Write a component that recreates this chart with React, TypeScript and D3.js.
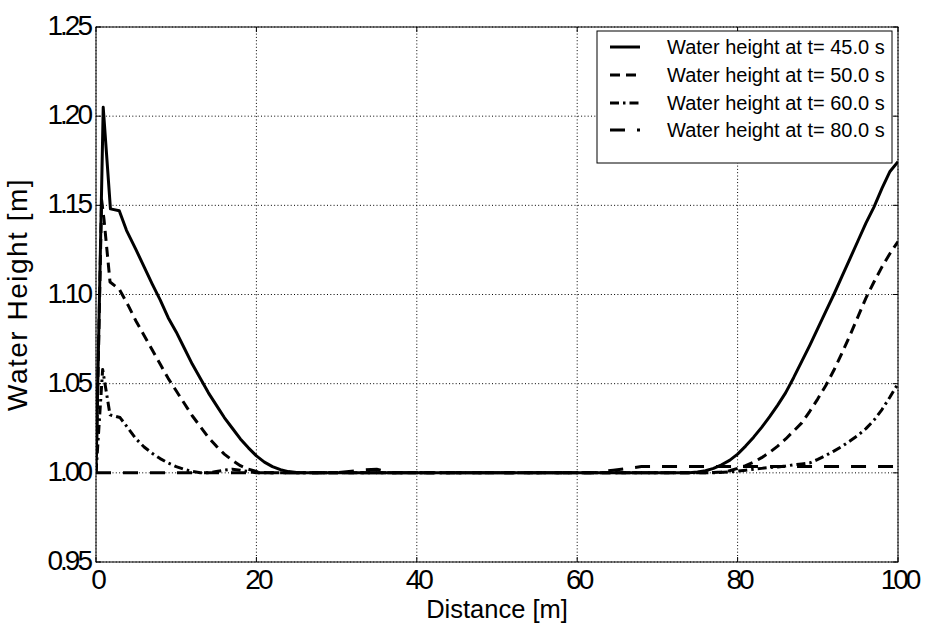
import React from "react";
import * as d3 from "d3";

// ---- data ----
const xTicks = [0, 20, 40, 60, 80, 100];
const yTicks = [0.95, 1.0, 1.05, 1.1, 1.15, 1.2, 1.25];
const yTickLabels = ["0.95", "1.00", "1.05", "1.10", "1.15", "1.20", "1.25"];

const legendLabels = [
  "Water height at t= 45.0 s",
  "Water height at t= 50.0 s",
  "Water height at t= 60.0 s",
  "Water height at t= 80.0 s",
];

// t = 45 s
const x45 = [0, 0.9, 1.8, 2.9, 3.8, 5, 6, 7, 8, 9, 10, 11, 12, 13, 14, 15, 16, 17, 18, 19, 20, 21, 22, 23, 24, 25, 26, 40, 60, 74, 75, 76, 77, 78, 79, 80, 81, 82, 83, 84, 85, 86, 87, 88, 89, 90, 91, 92, 93, 94, 95, 96, 97, 98, 99, 100];
const h45 = [1.0, 1.205, 1.148, 1.147, 1.136, 1.125, 1.1155, 1.106, 1.097, 1.087, 1.079, 1.07, 1.061, 1.053, 1.045, 1.038, 1.031, 1.025, 1.019, 1.014, 1.0095, 1.006, 1.0035, 1.0018, 1.0007, 1.0002, 1.0, 1.0, 1.0, 1.0, 1.0005, 1.0012, 1.0025, 1.0045, 1.007, 1.0105, 1.015, 1.02, 1.0255, 1.0315, 1.038, 1.045, 1.0535, 1.0625, 1.0715, 1.081, 1.0905, 1.1, 1.11, 1.12, 1.13, 1.14, 1.149, 1.1595, 1.169, 1.1745];

// t = 50 s
const x50 = [0, 0.7, 1.0, 1.75, 2.9, 4, 5, 6, 7, 8, 9, 10, 11, 12, 13, 14, 15, 16, 17, 18, 19, 20, 21, 22, 40, 60, 76, 77, 78, 79, 80, 81, 82, 83, 84, 85, 86, 87, 88, 89, 90, 91, 92, 93, 94, 95, 96, 97, 98, 99, 100];
const h50 = [1.0, 1.153, 1.142, 1.107, 1.103, 1.094, 1.085, 1.077, 1.069, 1.061, 1.053, 1.046, 1.039, 1.032, 1.026, 1.02, 1.015, 1.0105, 1.007, 1.004, 1.002, 1.0008, 1.0002, 1.0, 1.0, 1.0, 1.0, 1.0002, 1.0005, 1.0012, 1.0025, 1.004, 1.006, 1.0085, 1.0115, 1.015, 1.019, 1.0235, 1.028, 1.0345, 1.0415, 1.049, 1.0575, 1.067, 1.077, 1.0875, 1.098, 1.107, 1.1155, 1.123, 1.1297];

// t = 60 s
const x60 = [0, 0.83, 1.75, 3, 4, 5, 6, 7, 8, 9, 10, 11, 12, 13, 14, 15, 16, 17, 18, 19, 20, 40, 60, 77, 79, 80, 81, 82, 83, 84, 85, 86, 87, 88, 89, 90, 91, 92, 93, 94, 95, 96, 97, 98, 99, 100];
const h60 = [1.0, 1.058, 1.0325, 1.031, 1.025, 1.019, 1.0145, 1.011, 1.008, 1.0055, 1.0035, 1.002, 1.0008, 1.0, 1.0, 1.0007, 1.0015, 1.002, 1.0015, 1.0007, 1.0, 1.0, 1.0, 1.0, 1.0005, 1.001, 1.0015, 1.002, 1.0025, 1.003, 1.0033, 1.0038, 1.0045, 1.005, 1.0056, 1.0075, 1.0098, 1.0122, 1.0148, 1.0178, 1.021, 1.0248, 1.0295, 1.0355, 1.0425, 1.05];

// t = 80 s
const x80 = [0, 10, 20, 30, 33, 35, 37, 40, 50, 60, 62, 64.5, 68, 80, 90, 100];
const h80 = [1.0, 1.0, 1.0, 1.0, 1.0015, 1.002, 1.0, 1.0, 1.0, 1.0, 1.0, 1.0015, 1.0035, 1.0035, 1.0035, 1.0035];

const seriesX = [x45, x50, x60, x80];
const seriesH = [h45, h50, h60, h80];
const dashes = ["none", "10,6", "9,4,2.5,4", "15,12"];

export default function App() {
  const W = 926;
  const H = 628;
  const L = 96, R = 898, T = 27, B = 562;
  const x = d3.scaleLinear().domain([0, 100]).range([L, R]);
  const y = d3.scaleLinear().domain([0.95, 1.25]).range([B, T]);
  const line = d3
    .line<[number, number]>()
    .x((d) => x(d[0]))
    .y((d) => y(d[1]));

  const tickFont = { fontFamily: "Liberation Sans, Arial, sans-serif", fontSize: 28, letterSpacing: -3 };
  const xLabelFont = { fontFamily: "Liberation Sans, Arial, sans-serif", fontSize: 25.5 };
  const yLabelFont = { fontFamily: "Liberation Sans, Arial, sans-serif", fontSize: 28, letterSpacing: 1.5 };
  const legFont = { fontFamily: "Liberation Sans, Arial, sans-serif", fontSize: 20 };

  const legX = 597, legY = 31, legW = 295, legH = 132;
  const rowY = [47, 75, 103, 130];

  return (
    <svg
      width={W}
      height={H}
      style={{ position: "absolute", left: 0, top: 0, background: "#fff" }}
    >
      <rect x={0} y={0} width={W} height={H} fill="#fff" />
      <defs>
        <clipPath id="plotclip">
          <rect x={L} y={T} width={R - L} height={B - T} />
        </clipPath>
      </defs>
      {/* grid */}
      {xTicks.map((t) => (
        <line key={"gx" + t} x1={x(t)} x2={x(t)} y1={T} y2={B} stroke="#000" strokeWidth={1} strokeDasharray="1,2.3" />
      ))}
      {yTicks.map((t) => (
        <line key={"gy" + t} x1={L} x2={R} y1={y(t)} y2={y(t)} stroke="#000" strokeWidth={1} strokeDasharray="1,2.3" />
      ))}
      {/* ticks inside */}
      {xTicks.map((t) => (
        <g key={"tx" + t}>
          <line x1={x(t)} x2={x(t)} y1={B} y2={B - 5} stroke="#000" />
          <line x1={x(t)} x2={x(t)} y1={T} y2={T + 5} stroke="#000" />
        </g>
      ))}
      {yTicks.map((t) => (
        <g key={"ty" + t}>
          <line x1={L} x2={L + 5} y1={y(t)} y2={y(t)} stroke="#000" />
          <line x1={R} x2={R - 5} y1={y(t)} y2={y(t)} stroke="#000" />
        </g>
      ))}
      {/* series */}
      <g clipPath="url(#plotclip)">
        {seriesX.map((xs, i) => (
          <path
            key={"s" + i}
            d={line(xs.map((v, j) => [v, seriesH[i][j]] as [number, number])) || ""}
            fill="none"
            stroke="#000"
            strokeWidth={3}
            strokeDasharray={dashes[i]}
            strokeLinejoin="round"
          />
        ))}
      </g>
      {/* frame */}
      <rect x={L} y={T} width={R - L} height={B - T} fill="none" stroke="#000" strokeWidth={1} />
      {/* tick labels */}
      {xTicks.map((t) => (
        <text key={"lx" + t} x={x(t) + 1.5} y={B + 27} textAnchor="middle" style={tickFont}>
          {String(t)}
        </text>
      ))}
      {yTicks.map((t, i) => (
        <text key={"ly" + t} x={L - 6} y={y(t) + 8} textAnchor="end" style={tickFont}>
          {yTickLabels[i]}
        </text>
      ))}
      {/* axis labels */}
      <text x={(L + R) / 2} y={618} textAnchor="middle" style={xLabelFont}>
        Distance [m]
      </text>
      <text
        transform={`translate(27,${(T + B) / 2}) rotate(-90)`}
        textAnchor="middle"
        style={yLabelFont}
      >
        Water Height [m]
      </text>
      {/* legend */}
      <rect x={legX} y={legY} width={legW} height={legH} fill="#fff" stroke="#000" strokeWidth={1} />
      {legendLabels.map((lab, i) => (
        <g key={"lg" + i}>
          <line x1={610} x2={640} y1={rowY[i]} y2={rowY[i]} stroke="#000" strokeWidth={3} strokeDasharray={dashes[i]} />
          <text x={667} y={rowY[i] + 7} style={legFont}>
            {lab}
          </text>
        </g>
      ))}
    </svg>
  );
}
